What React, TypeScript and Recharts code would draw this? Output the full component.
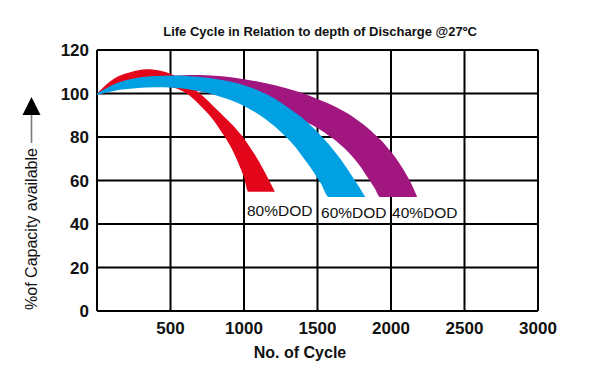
import React from 'react';
import { ComposedChart, Area, XAxis, YAxis, CartesianGrid, Scatter } from 'recharts';

const FONT = '"Liberation Sans", Arial, Helvetica, sans-serif';

const cycleTicks = [0, 500, 1000, 1500, 2000, 2500, 3000];
const capacityTicks = [0, 20, 40, 60, 80, 100, 120];

// 80% DOD band (cycles, upper edge, lower edge in % capacity)
const dod80Cycles = [0, 120, 220, 340, 440, 520, 620, 720, 800, 840, 870, 930, 980, 1000, 1029, 1070, 1130, 1210];
const dod80Upper = [100, 107, 109.6, 111.1, 110.3, 108.5, 104.3, 98.8, 93.6, 91, 89, 85, 81, 79.3, 76.4, 72.3, 65.3, 54.8];
const dod80Lower = [100, 102, 103.3, 104, 103.8, 102.8, 99.5, 93.2, 87, 83, 80, 72.8, 65, 61.4, 54.8, 54.8, 54.8, 54.8];

// 60% DOD band
const dod60Cycles = [0, 120, 260, 400, 520, 700, 850, 1000, 1150, 1270, 1360, 1400, 1450, 1500, 1520, 1578, 1660, 1740, 1790, 1825];
const dod60Upper = [100, 104.4, 107, 108, 108.3, 107.6, 106.2, 103.8, 99.8, 95, 90.6, 88.6, 85.5, 82.3, 80.8, 76.6, 69.5, 61.5, 56.3, 52.4];
const dod60Lower = [99.3, 101.3, 102.4, 102.9, 102.7, 101, 98.3, 94.3, 88, 81, 74.5, 70.8, 66.2, 61, 59, 52.4, 52.4, 52.4, 52.4, 52.4];

// 40% DOD band
const dod40Cycles = [0, 200, 400, 550, 700, 850, 1000, 1150, 1300, 1450, 1550, 1600, 1650, 1720, 1780, 1840, 1890, 1925, 2000, 2070, 2130, 2178];
const dod40Upper = [99.8, 104.8, 107.6, 108.3, 108.5, 107.9, 106.6, 104.7, 102.2, 98.9, 96.1, 94.6, 92.9, 90.2, 87.3, 84.2, 81.2, 79, 73.2, 66.6, 59.6, 52.4];
const dod40Lower = [99.3, 102.5, 103.3, 102.5, 101, 98.8, 96, 93, 89.8, 86, 82, 79.5, 76.8, 72.3, 67.5, 61.5, 56.3, 52.4, 52.4, 52.4, 52.4, 52.4];

// band labels
const labelNames = ['80%DOD', '60%DOD', '40%DOD'];
const labelCycles = [1020, 1524, 2007];
const labelCapacity = [43.7, 42.8, 42.8];

const RED = '#E3061B';
const BLUE = '#00A0E2';
const PURPLE = '#A1177F';

const EMPTY: (number | null)[] = [null, null];

const rows = [
  ...dod80Cycles.map((x, i) => ({ x, d80: [dod80Lower[i], dod80Upper[i]], d60: EMPTY, d40: EMPTY })),
  ...dod60Cycles.map((x, i) => ({ x, d80: EMPTY, d60: [dod60Lower[i], dod60Upper[i]], d40: EMPTY })),
  ...dod40Cycles.map((x, i) => ({ x, d80: EMPTY, d60: EMPTY, d40: [dod40Lower[i], dod40Upper[i]] })),
].sort((a, b) => a.x - b.x);

const labelData = labelNames.map((name, i) => ({ x: labelCycles[i], y: labelCapacity[i], name }));

const renderYLabel = (props: any) => {
  const vb = props.viewBox || { x: 0, y: 50 };
  const cx = vb.x + 31.5;
  return (
    <g>
      <text
        transform={`translate(${cx},229) rotate(-90)`}
        textAnchor="middle"
        dominantBaseline="central"
        fontSize={16}
        fontFamily={FONT}
        fill="#111"
      >
        %of Capacity available
      </text>
      <line x1={cx} y1={143} x2={cx} y2={113} stroke="#7a7a7a" strokeWidth={1.6} />
      <polygon points={`${cx},97 ${cx - 9},115 ${cx + 9},115`} fill="#000" />
    </g>
  );
};

const renderXLabel = (props: any) => {
  const vb = props.viewBox || { x: 97, y: 311 };
  return (
    <text x={300} y={vb.y + 47} textAnchor="middle" fontSize={16} fontWeight="bold" fontFamily={FONT} fill="#111">
      No. of Cycle
    </text>
  );
};

const renderLabelPoint = (p: any) => (
  <text x={p.cx} y={p.cy} fontSize={15.5} fontFamily={FONT} fill="#111" textAnchor="start">
    {p.payload.name}
  </text>
);

export default function App() {
  return (
    <div style={{ position: 'absolute', left: 0, top: 0, width: 600, height: 368, background: '#fff' }}>
      <div
        style={{
          position: 'absolute',
          left: 0,
          top: 25,
          width: 640,
          textAlign: 'center',
          fontFamily: FONT,
          fontWeight: 'bold',
          fontSize: 13,
          lineHeight: '13px',
          color: '#111',
        }}
      >
        Life Cycle in Relation to depth of Discharge @27ºC
      </div>
      <ComposedChart width={600} height={368} data={rows} margin={{ top: 50, right: 62, left: 0, bottom: 0 }}>
        <CartesianGrid stroke="#000" strokeWidth={2} fill="none" />
        <XAxis
          dataKey="x"
          type="number"
          domain={[0, 3000]}
          ticks={cycleTicks}
          allowDataOverflow
          height={57}
          axisLine={false}
          tickLine={false}
          tickSize={0}
          tickMargin={11}
          tickFormatter={(v: number) => (v === 0 ? '' : String(v))}
          tick={{ fontSize: 17, fontWeight: 'bold', fontFamily: FONT, fill: '#111' }}
          label={renderXLabel}
        />
        <YAxis
          type="number"
          domain={[0, 120]}
          ticks={capacityTicks}
          allowDataOverflow
          width={97}
          axisLine={false}
          tickLine={false}
          tickSize={0}
          tickMargin={8}
          tick={{ fontSize: 17, fontWeight: 'bold', fontFamily: FONT, fill: '#111' }}
          label={renderYLabel}
        />
        <Area dataKey="d40" type="monotone" fill={PURPLE} fillOpacity={1} stroke="none" connectNulls isAnimationActive={false} />
        <Area dataKey="d80" type="monotone" fill={RED} fillOpacity={1} stroke="none" connectNulls isAnimationActive={false} />
        <Area dataKey="d60" type="monotone" fill={BLUE} fillOpacity={1} stroke="none" connectNulls isAnimationActive={false} />
        <Scatter data={labelData} dataKey="y" shape={renderLabelPoint} isAnimationActive={false} />
      </ComposedChart>
    </div>
  );
}
